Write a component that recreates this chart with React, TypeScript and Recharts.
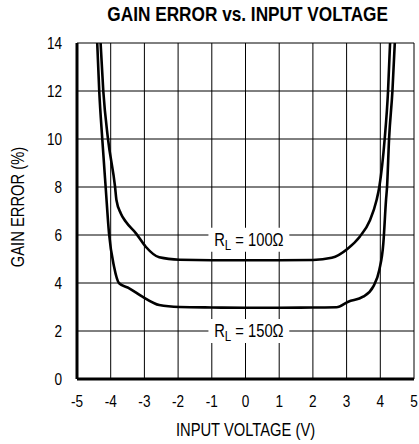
import React from 'react';
import {
  LineChart,
  Line,
  XAxis,
  YAxis,
  CartesianGrid,
  ReferenceArea,
} from 'recharts';

// gain error (%) vs input voltage (V)
const rl100X = [-4.3, -4.22, -4.08, -3.87, -3.83, -3.7, -3.55, -3.25, -2.96, -2.56, -1.96, -1, 0, 1, 2, 2.56, 3.04, 3.39, 3.69, 3.89, 3.97, 4.13, 4.23, 4.29];
const rl100Y = [14, 12, 10, 8, 7.46, 6.9, 6.55, 6.07, 5.51, 5.07, 4.97, 4.95, 4.95, 4.95, 4.96, 5.05, 5.44, 5.93, 6.6, 7.46, 8, 10, 12, 14];

const rl150X = [-4.4, -4.34, -4.25, -4.15, -4.05, -3.9, -3.75, -3.45, -3.06, -2.56, -1.96, -1, 0, 1, 2, 2.7, 3.05, 3.49, 3.79, 3.97, 4.09, 4.17, 4.2, 4.26, 4.36, 4.43];
const rl150Y = [14, 12, 10, 8, 6.07, 4.68, 3.99, 3.78, 3.43, 3.08, 3.0, 2.98, 2.97, 2.97, 2.98, 2.99, 3.22, 3.43, 3.85, 4.54, 5.65, 7.46, 8, 10, 12, 14];

const xTicks = [-5, -4, -3, -2, -1, 0, 1, 2, 3, 4, 5];
const yTicks = [0, 2, 4, 6, 8, 10, 12, 14];

const rl100 = rl100X.map((x, i) => ({ v: x, err: rl100Y[i] }));
const rl150 = rl150X.map((x, i) => ({ v: x, err: rl150Y[i] }));

const FONT = "'Liberation Sans', Arial, sans-serif";
// no narrow face installed, so squeeze the regular one
const SQUEEZE = 0.82;

function RLabel(props: any) {
  const { viewBox, ohms } = props;
  const cx = viewBox.x + viewBox.width / 2;
  const cy = viewBox.y + viewBox.height / 2;
  return (
    <text transform={`translate(${cx},${cy + 6}) scale(${SQUEEZE},1)`} textAnchor="middle" fontFamily={FONT} fontSize={18} fill="#000">
      R<tspan fontSize={14} dy={4}>L</tspan>
      <tspan dy={-4}>{` = ${ohms}Ω`}</tspan>
    </text>
  );
}

function XLabel(props: any) {
  const { viewBox } = props;
  const cx = viewBox.x + viewBox.width / 2;
  return (
    <text transform={`translate(${cx},${viewBox.y + 57}) scale(${SQUEEZE},1)`} textAnchor="middle" fontFamily={FONT} fontSize={18} fill="#000">
      INPUT VOLTAGE (V)
    </text>
  );
}

function YLabel(props: any) {
  const { viewBox } = props;
  const cy = viewBox.y + viewBox.height / 2 - 4;
  return (
    <text transform={`translate(24,${cy}) rotate(-90) scale(${SQUEEZE},1)`} textAnchor="middle" fontFamily={FONT} fontSize={18} fill="#000">
      GAIN ERROR (%)
    </text>
  );
}

function XTick(props: any) {
  const { x, y, payload } = props;
  return (
    <text transform={`translate(${x},${y + 14}) scale(0.85,1)`} textAnchor="middle" fontFamily={FONT} fontSize={16} fill="#000">
      {payload.value}
    </text>
  );
}

function YTick(props: any) {
  const { x, y, payload } = props;
  return (
    <text transform={`translate(${x},${y + 6}) scale(0.85,1)`} textAnchor="end" fontFamily={FONT} fontSize={16} fill="#000">
      {payload.value}
    </text>
  );
}

export default function App() {
  return (
    <div style={{ position: 'absolute', left: 0, top: 0, width: 419, height: 444, background: '#fff' }}>
      <div
        style={{
          position: 'absolute',
          left: 77,
          width: 337,
          top: 2,
          textAlign: 'center',
          fontFamily: FONT,
          fontWeight: 'bold',
          fontSize: 21,
          lineHeight: '24px',
          color: '#000',
          transform: `scaleX(${SQUEEZE})`,
          whiteSpace: 'nowrap',
        }}
      >
        GAIN ERROR vs. INPUT VOLTAGE
      </div>
      <LineChart width={419} height={444} margin={{ top: 43, right: 5, bottom: 0, left: 0 }}>
        <CartesianGrid stroke="#000" strokeWidth={1} />
        <XAxis
          xAxisId={0}
          dataKey="v"
          type="number"
          domain={[-5, 5]}
          ticks={xTicks}
          allowDataOverflow
          tickLine={false}
          axisLine={{ stroke: '#000', strokeWidth: 3 }}
          tick={<XTick />}
          tickMargin={8}
          height={65}
          label={<XLabel />}
        />
        <XAxis xAxisId="top" type="number" domain={[-5, 5]} orientation="top" height={0} tick={false} tickLine={false} axisLine={{ stroke: '#000', strokeWidth: 3 }} />
        <YAxis
          yAxisId={0}
          type="number"
          domain={[0, 14]}
          ticks={yTicks}
          allowDataOverflow
          tickLine={false}
          axisLine={{ stroke: '#000', strokeWidth: 3 }}
          tick={<YTick />}
          tickMargin={9}
          width={77}
          label={<YLabel />}
        />
        <YAxis yAxisId="right" type="number" domain={[0, 14]} orientation="right" width={0} tick={false} tickLine={false} axisLine={{ stroke: '#000', strokeWidth: 3 }} />
        <ReferenceArea x1={-1.1} x2={1.3} y1={5.3} y2={6.3} fill="#fff" fillOpacity={1} stroke="none" label={<RLabel ohms={100} />} />
        <ReferenceArea x1={-1.1} x2={1.3} y1={1.5} y2={2.5} fill="#fff" fillOpacity={1} stroke="none" label={<RLabel ohms={150} />} />
        <Line data={rl100} dataKey="err" type="monotone" stroke="#000" strokeWidth={2.6} dot={false} isAnimationActive={false} />
        <Line data={rl150} dataKey="err" type="monotone" stroke="#000" strokeWidth={2.6} dot={false} isAnimationActive={false} />
      </LineChart>
    </div>
  );
}
